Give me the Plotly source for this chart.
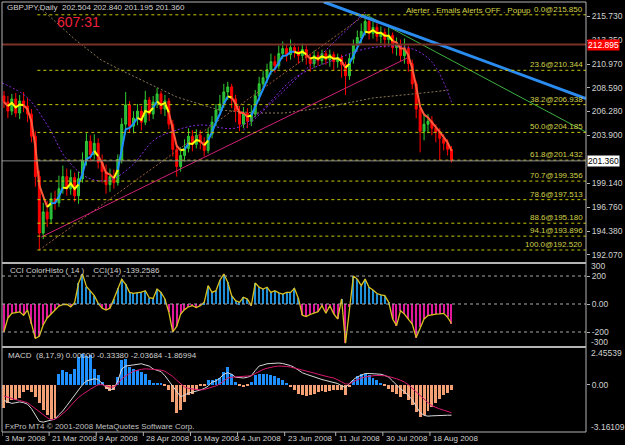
import plotly.graph_objects as go

# ---------------- data ----------------
O = [207.8, 207.2, 206.3, 207.5, 206.1, 207.3, 206.8, 206.0, 203.8, 199.8,
     194.2, 196.3, 195.6, 197.6, 197.2, 198.6, 199.8, 198.6, 199.7, 197.9,
     199.6, 201.4, 203.3, 202.0, 203.1, 201.2, 200.3, 199.0, 199.8, 199.2,
     201.5, 205.0, 206.9, 204.8, 205.6, 206.3, 205.2, 207.4, 206.0, 207.2,
     208.0, 206.5, 207.3, 205.0, 202.5, 200.8, 201.9, 202.6, 203.8, 203.0,
     203.9, 203.2, 202.4, 204.0, 205.2, 206.4, 207.0, 208.2, 208.7, 207.5,
     206.3, 205.0, 206.1, 205.3, 206.0, 207.8, 209.0, 209.6, 210.4, 211.2,
     210.8, 212.0, 212.5, 211.9, 212.6, 212.2, 211.8, 212.4, 211.6, 211.0,
     211.8, 211.3, 212.0, 211.4, 211.9, 211.2, 211.6, 210.9, 209.8, 211.5,
     212.8, 213.6, 214.2, 215.2, 214.0, 214.6, 213.7, 214.1, 213.4, 213.8,
     212.6, 212.9, 211.8, 212.5, 211.0, 209.0, 206.5, 204.3, 205.0, 205.3,
     204.6, 204.2, 203.6, 203.1, 202.504]
H = [208.3, 207.8, 208.0, 208.1, 207.9, 208.2, 207.6, 206.5, 204.3, 200.4,
     197.2, 197.4, 198.2, 198.4, 199.9, 200.9, 200.6, 200.5, 200.2, 200.3,
     202.2, 204.1, 203.9, 204.0, 203.6, 202.0, 201.0, 200.6, 200.5, 202.0,
     205.6, 208.2, 207.3, 206.3, 207.0, 206.8, 208.3, 207.7, 207.8, 208.6,
     208.3, 207.9, 207.6, 205.4, 203.0, 202.7, 203.5, 204.6, 204.4, 204.5,
     204.4, 203.7, 204.6, 205.8, 207.0, 207.9, 209.0, 209.2, 209.0, 207.9,
     206.8, 206.7, 206.6, 206.9, 208.4, 209.7, 210.3, 211.0, 212.0, 211.8,
     212.8, 213.2, 212.9, 213.4, 213.0, 212.7, 213.0, 212.8, 212.0, 212.3,
     212.2, 212.4, 212.3, 212.4, 212.2, 212.0, 211.9, 211.2, 212.0, 213.4,
     214.3, 215.0, 215.85, 215.5, 215.2, 215.0, 214.7, 214.5, 214.6, 214.1,
     213.6, 213.4, 213.5, 212.8, 211.4, 209.3, 206.9, 205.9, 206.0, 205.8,
     205.0, 204.6, 204.0, 203.5, 202.840]
L = [206.6, 205.6, 205.9, 205.7, 205.5, 206.2, 205.2, 203.2, 198.8, 192.52,
     193.6, 194.8, 195.1, 196.5, 196.8, 198.1, 197.9, 198.0, 197.3, 197.1,
     199.2, 200.9, 201.3, 201.5, 200.6, 199.2, 198.1, 198.3, 198.6, 198.9,
     201.1, 204.4, 204.2, 204.1, 204.9, 204.4, 204.9, 205.3, 205.5, 206.6,
     206.0, 205.8, 204.5, 201.8, 199.8, 200.3, 201.3, 202.2, 202.3, 202.6,
     202.5, 201.8, 202.1, 203.6, 204.8, 205.9, 206.6, 207.4, 206.6, 205.2,
     204.3, 204.6, 204.6, 204.8, 205.7, 207.3, 208.4, 209.1, 209.9, 210.1,
     210.5, 211.5, 211.2, 211.4, 211.6, 211.0, 211.2, 210.9, 210.2, 210.6,
     210.8, 210.9, 210.9, 210.7, 210.3, 210.6, 209.6, 207.9, 209.4, 211.0,
     212.4, 213.0, 213.8, 213.4, 213.5, 213.2, 213.0, 212.6, 212.8, 212.0,
     211.8, 211.2, 211.0, 210.2, 208.5, 205.6, 202.2, 203.4, 204.1, 203.9,
     203.2, 201.4, 202.4, 201.9, 201.195]
C = [207.2, 206.3, 207.5, 206.1, 207.3, 206.8, 206.0, 203.8, 199.8, 194.2,
     196.3, 195.6, 197.6, 197.2, 198.6, 199.8, 198.6, 199.7, 197.9, 199.6,
     201.4, 203.3, 202.0, 203.1, 201.2, 200.3, 199.0, 199.8, 199.2, 201.5,
     205.0, 206.9, 204.8, 205.6, 206.3, 205.2, 207.4, 206.0, 207.2, 208.0,
     206.5, 207.3, 205.0, 202.5, 200.8, 201.9, 202.6, 203.8, 203.0, 203.9,
     203.2, 202.4, 204.0, 205.2, 206.4, 207.0, 208.2, 208.7, 207.5, 206.3,
     205.0, 206.1, 205.3, 206.0, 207.8, 209.0, 209.6, 210.4, 211.2, 210.8,
     212.0, 212.5, 211.9, 212.6, 212.2, 211.8, 212.4, 211.6, 211.0, 211.8,
     211.3, 212.0, 211.4, 211.9, 211.2, 211.6, 210.9, 209.8, 211.5, 212.8,
     213.6, 214.2, 215.2, 214.0, 214.6, 213.7, 214.1, 213.4, 213.8, 212.6,
     212.9, 211.8, 212.5, 211.0, 209.0, 206.5, 204.3, 205.0, 205.3, 204.6,
     204.2, 203.6, 203.1, 202.504, 201.360]

CCI = [-198, -100, -66, -60, -56, -80, -43, -140, -245, -230,
       -150, -100, -70, -43, -15, -5, -2, -20, 10, 150,
       215, 125, 95, 60, 5, -30, -43, -30, 38, 114,
       176, 140, 83, 76, 80, 85, 95, 45, 40, 107,
       83, 36, -60, -200, -160, -72, -40, -20, -12, -25,
       -12, 12, 131, 83, 95, 170, 214, 155, 60, 24,
       12, 48, 36, -12, 150, 120, 107, 120, 83, 95,
       80, 71, 83, 83, 112, 40, -80, -90, -75, -65,
       -55, -12, -66, -12, -70, -107, 36, -280, -24, 200,
       178, 131, 178, 119, 100, 75, 65, 60, 12, -107,
       -155, -48, -72, -107, -143, -240, -167, -107, -83, -75,
       -72, -70, -67, -95, -139.2586]

MACD_HIST = [-1.58, -1.25, -1.03, -0.99, -0.92, -0.48, -0.37, -0.48, -0.82, -1.25,
             -1.7, -2.05, -2.27, -2.2, 0.75, 0.97, 0.86, 0.75, 1.08, 1.87,
             2.05, 1.92, 1.98, 1.08, 0.64, 0.2, -0.26, -0.42, -0.37, 0.53,
             1.64, 1.75, 1.2, 1.08, 0.97, 0.86, 0.75, 0.31, 0.13, 0.09,
             0.13, -0.1, -0.37, -1.14, -1.92, -1.7, -1.14, -0.7, -0.59, -0.37,
             -0.1, -0.02, 0.33, 0.33, 0.4, 0.46, 0.86, 1.2, 0.75, 0.2,
             -0.1, -0.15, -0.06, 0.2, 0.64, 0.75, 0.75, 0.75, 0.64, 0.57,
             0.46, 0.29, 0.07, -0.15, -0.37, -0.59, -0.7, -0.77, -0.7, -0.59,
             -0.48, -0.42, -0.48, -0.42, -0.37, -0.37, -0.37, -0.7, -0.15, 0.29,
             0.57, 0.7, 0.75, 0.64, 0.42, 0.29, 0.13, -0.02, -0.26, -0.48,
             -0.59, -0.81, -0.59, -1.03, -1.36, -1.8, -2.18, -2.03, -1.74, -1.47,
             -1.2, -0.98, -0.7, -0.55, -0.3338]
MACD_MAIN = [-1.05, -1.15, -1.25, -1.2, -1.15, -1.2, -1.3, -1.6, -2.0, -2.45,
             -2.5, -2.45, -2.4, -2.3, -2.0, -1.75, -1.4, -1.05, -0.7, -0.35,
             0.0, 0.25, 0.35, 0.4, 0.35, 0.1, -0.18, -0.35, -0.25, 0.25,
             1.05, 1.25, 1.3, 1.32, 1.4, 1.4, 1.32, 1.25, 1.05, 0.95,
             0.88, 0.6, 0.25, -0.1, -0.5, -0.8, -0.7, -0.55, -0.5, -0.45,
             -0.35, -0.25, -0.1, 0.18, 0.25, 0.45, 0.7, 0.8, 0.7, 0.5,
             0.45, 0.45, 0.5, 0.6, 0.95, 1.25, 1.32, 1.4, 1.42, 1.45,
             1.45, 1.42, 1.36, 1.28, 1.15, 0.95, 0.8, 0.7, 0.6, 0.5,
             0.4, 0.35, 0.28, 0.22, 0.18, 0.08, -0.08, -0.18, 0.08, 0.35,
             0.52, 0.65, 0.75, 0.75, 0.75, 0.72, 0.7, 0.62, 0.5, 0.25,
             0.0, -0.28, -0.45, -0.7, -1.0, -1.45, -1.85, -2.05, -2.1, -2.08,
             -2.06, -2.05, -2.05, -2.04, -2.03684]
MACD_SIGNAL = [-0.75, -0.85, -0.95, -1.0, -1.05, -1.12, -1.2, -1.4, -1.6, -1.85,
               -2.05, -2.2, -2.35, -2.3, -2.15, -1.95, -1.7, -1.4, -1.1, -0.85,
               -0.65, -0.45, -0.3, -0.15, 0.0, 0.0, -0.08, -0.15, -0.15, 0.05,
               0.4, 0.6, 0.75, 0.9, 0.98, 1.03, 1.06, 1.06, 1.03, 1.0,
               0.98, 0.9, 0.75, 0.55, 0.3, 0.05, -0.15, -0.25, -0.3, -0.35,
               -0.35, -0.32, -0.25, -0.15, -0.08, 0.05, 0.25, 0.45, 0.5, 0.52,
               0.53, 0.53, 0.55, 0.6, 0.75, 0.9, 1.02, 1.1, 1.17, 1.22,
               1.25, 1.25, 1.22, 1.18, 1.12, 1.05, 0.98, 0.9, 0.85, 0.78,
               0.7, 0.62, 0.55, 0.5, 0.45, 0.35, 0.2, 0.05, 0.05, 0.2,
               0.35, 0.45, 0.52, 0.58, 0.6, 0.62, 0.62, 0.6, 0.55, 0.5,
               0.4, 0.3, 0.18, 0.0, -0.25, -0.5, -0.75, -1.0, -1.2, -1.4,
               -1.52, -1.62, -1.7, -1.8, -1.86994]

FIB_PCT = ["0.0", "23.6", "38.2", "50.0", "61.8", "70.7", "78.6", "88.6", "94.1", "100.0"]
FIB_PRICE = [215.850, 210.344, 206.938, 204.185, 201.432, 199.356, 197.513, 195.180, 193.896, 192.520]
PRICE_TICKS = [215.730, 213.350, 210.970, 208.590, 206.280, 203.900, 199.140, 196.760, 194.380, 192.070]
DATE_LABELS = ["3 Mar 2008", "21 Mar 2008", "9 Apr 2008", "28 Apr 2008", "16 May 2008",
               "4 Jun 2008", "23 Jun 2008", "11 Jul 2008", "30 Jul 2008", "18 Aug 2008"]
DATE_BARS = [0, 12, 24, 36, 48, 60, 72, 85, 97, 109]

RESIST_LEVEL = 212.895
BID = 201.360

# drawn objects (bar index, price)
BLUE_LINE_X, BLUE_LINE_Y = [81.5, 148.25], [217.12, 207.55]
GREEN_LINE_X, GREEN_LINE_Y = [92, 148.25], [215.90, 204.22]
PINK_LINE_X, PINK_LINE_Y = [9.5, 102.75], [193.81, 211.57]
FIB_DIAG_X, FIB_DIAG_Y = [9, 92], [192.52, 215.85]
PURPLE_DIAG_X, PURPLE_DIAG_Y = [61, 92], [204.42, 216.13]
TAN_MA_X = [9, 12, 18.25, 24.75, 30.75, 44, 54.75, 64, 71.5, 82.25, 94, 109, 113.25]
TAN_MA_Y = [216.62, 215.53, 213.35, 211.37, 210.18, 207.70, 206.41, 206.11, 206.11, 206.70, 207.60, 208.19, 208.39]
PURPLE_MA_X = [-0.5, 5.75, 11.5, 15.75, 21.5, 27, 32.75, 38.25, 44, 50, 59, 65.25, 74, 84, 93.25, 103.25, 109, 114]
PURPLE_MA_Y = [209.09, 207.70, 204.62, 201.64, 199.66, 199.46, 200.95, 203.43, 204.42, 204.92, 204.62, 206.21, 209.58, 211.37, 212.56, 212.56, 211.17, 207.20]

N = len(C)
assert len(O) == N and len(H) == N and len(L) == N
assert len(CCI) == N and len(MACD_HIST) == N and len(MACD_MAIN) == N and len(MACD_SIGNAL) == N
bars = list(range(N))

# ---------------- geometry helpers (pixels -> paper) ----------------
PL, PR, PT, PB = 2, 597, 2, 432
def px(x):
    return (x - PL) / (PR - PL)
def py(y):
    return (PB - y) / (PB - PT)

FONT = "Liberation Sans, Arial, sans-serif"
TXT = "#d0d0d0"
FIBC = "#d2d24a"
XR = [-0.5, 148.25]
FS = 8

fig = go.Figure()

# long dotted MAs / diagonals (behind candles)
fig.add_trace(go.Scatter(x=TAN_MA_X, y=TAN_MA_Y, mode="lines", line=dict(color="#8c7a55", width=1, dash="2px,2px"), xaxis="x", yaxis="y"))
fig.add_trace(go.Scatter(x=PURPLE_MA_X, y=PURPLE_MA_Y, mode="lines", line=dict(color="#8a2be2", width=1, dash="2px,2px", shape="spline"), xaxis="x", yaxis="y"))
fig.add_trace(go.Scatter(x=FIB_DIAG_X, y=FIB_DIAG_Y, mode="lines", line=dict(color="#a0603a", width=1, dash="2px,2px"), xaxis="x", yaxis="y"))
fig.add_trace(go.Scatter(x=PURPLE_DIAG_X, y=PURPLE_DIAG_Y, mode="lines", line=dict(color="#8a2be2", width=1, dash="2px,2px"), xaxis="x", yaxis="y"))

# candles
fig.add_trace(go.Candlestick(x=bars, open=O, high=H, low=L, close=C,
                             increasing=dict(line=dict(color="#32cd32", width=1), fillcolor="#22b14c"),
                             decreasing=dict(line=dict(color="#ff0000", width=1), fillcolor="#ff0000"),
                             whiskerwidth=0, xaxis="x", yaxis="y"))

# colored moving average computed from closes
alpha = 0.45
ma = [C[0]]
for v in C[1:]:
    ma.append(ma[-1] + alpha * (v - ma[-1]))
cols = []
prev = None
for i in range(1, N):
    d = 1 if ma[i] >= ma[i - 1] else -1
    c = "#1e90ff" if d > 0 else "#ff5a3c"
    if prev is not None and d != prev:
        c = "#ffff00"
    cols.append(c)
    prev = d
i = 1
while i < N:
    j = i
    while j + 1 < N and cols[j] == cols[i - 1]:
        j += 1
    xs = list(range(i - 1, j + 1))
    fig.add_trace(go.Scatter(x=xs, y=[ma[k] for k in xs], mode="lines",
                             line=dict(color=cols[i - 1], width=2), xaxis="x", yaxis="y"))
    i = j + 1

# trend lines
fig.add_trace(go.Scatter(x=PINK_LINE_X, y=PINK_LINE_Y, mode="lines", line=dict(color="#d0207a", width=1), xaxis="x", yaxis="y"))
fig.add_trace(go.Scatter(x=GREEN_LINE_X, y=GREEN_LINE_Y, mode="lines", line=dict(color="#3cb043", width=1), xaxis="x", yaxis="y"))
fig.add_trace(go.Scatter(x=BLUE_LINE_X, y=BLUE_LINE_Y, mode="lines", line=dict(color="#2b8cf0", width=3), xaxis="x", yaxis="y"))

# CCI
fig.add_trace(go.Bar(x=bars, y=CCI, width=0.3,
                     marker=dict(color=["#1f8fd8" if v > 0 else "#e0189a" for v in CCI], line=dict(width=0)),
                     xaxis="x2", yaxis="y2"))
fig.add_trace(go.Scatter(x=bars, y=CCI, mode="lines", line=dict(color="#d8c020", width=1.3), xaxis="x2", yaxis="y2"))

# MACD
fig.add_trace(go.Bar(x=bars, y=MACD_HIST, width=0.75,
                     marker=dict(color=["#1e90ff" if v > 0 else "#f2a074" for v in MACD_HIST], line=dict(width=0)),
                     xaxis="x3", yaxis="y3"))
fig.add_trace(go.Scatter(x=bars, y=MACD_MAIN, mode="lines", line=dict(color="#d8d8d8", width=1), xaxis="x3", yaxis="y3"))
fig.add_trace(go.Scatter(x=bars, y=MACD_SIGNAL, mode="lines", line=dict(color="#d8186e", width=1), xaxis="x3", yaxis="y3"))

shapes = []
for p in FIB_PRICE:
    shapes.append(dict(type="line", xref="x", yref="y", x0=8.5, x1=XR[1], y0=p, y1=p,
                       line=dict(color="#c8c800", width=1, dash="3px,3px")))
shapes.append(dict(type="line", xref="paper", yref="y", x0=0, x1=1, y0=RESIST_LEVEL, y1=RESIST_LEVEL,
                   line=dict(color="#7a3326", width=2)))
shapes.append(dict(type="line", xref="paper", yref="y", x0=0, x1=1, y0=BID, y1=BID,
                   line=dict(color="#8a8a8a", width=1)))
for lv in (200, 0, -200):
    shapes.append(dict(type="line", xref="paper", yref="y2", x0=0, x1=1, y0=lv, y1=lv,
                       line=dict(color="#a8a8a8", width=1, dash="3px,3px")))
GRAY = "#b4b4b4"
shapes.append(dict(type="line", xref="paper", yref="paper", x0=0, x1=0, y0=0, y1=1, line=dict(color=GRAY, width=1)))
shapes.append(dict(type="line", xref="paper", yref="paper", x0=1, x1=1, y0=0, y1=1, line=dict(color=GRAY, width=1)))
shapes.append(dict(type="line", xref="paper", yref="paper", x0=0, x1=1, y0=1, y1=1, line=dict(color=GRAY, width=1)))
shapes.append(dict(type="line", xref="paper", yref="paper", x0=0, x1=1, y0=0, y1=0, line=dict(color=GRAY, width=1)))
for sy in (263, 347):
    shapes.append(dict(type="line", xref="paper", yref="paper", x0=0, x1=1.0, y0=py(sy), y1=py(sy), line=dict(color=GRAY, width=2)))
for b in DATE_BARS:
    shapes.append(dict(type="line", xref="x3", yref="paper", x0=b - 0.5, x1=b - 0.5, y0=0, y1=py(436),
                       line=dict(color=GRAY, width=1)))

ann = []
def text(x, y, s, size=FS, color=TXT, xanchor="left", **kw):
    ann.append(dict(x=px(x), y=py(y), xref="paper", yref="paper", text=s, showarrow=False,
                    xanchor=xanchor, yanchor="middle", font=dict(family=FONT, size=size, color=color), **kw))

text(5, 8, "GBPJPY,Daily  202.504 202.840 201.195 201.360")
text(56, 22, "607:31", size=14, color="#f0203c")
text(543, 11, "Alerter . Emails Alerts OFF . Popup", color=FIBC, xanchor="right")
for lab, p in zip(FIB_PCT, FIB_PRICE):
    ann.append(dict(x=px(596), y=p, xref="paper", yref="y", text=f"{lab}@{p:.3f}", showarrow=False,
                    xanchor="right", yanchor="bottom", yshift=-1,
                    font=dict(family=FONT, size=FS, color=FIBC)))
text(8, 270, "CCI ColorHisto ( 14 )    CCI(14) -139.2586")
text(6, 355, "MACD  (8,17,9) 0.00000 -0.33380 -2.03684 -1.86994")
text(3, 426, "FxPro MT4 © 2001-2008 MetaQuotes Software Corp.", color="#c0c0c0")
text(600, 266, "300", size=8.5)
text(600, 342, "-300", size=8.5)
text(600, 353, "2.45539", size=8.5)
text(600, 427, "-3.16109", size=8.5)
ann.append(dict(x=1, y=RESIST_LEVEL, xref="paper", yref="y", text="212.895", showarrow=False,
                xanchor="left", yanchor="middle", bgcolor="#ff0000", borderpad=0, xshift=1,
                font=dict(family=FONT, size=8.5, color="#ffffff")))
ann.append(dict(x=1, y=BID, xref="paper", yref="y", text="201.360", showarrow=False,
                xanchor="left", yanchor="middle", bgcolor="#ffffff", borderpad=0, xshift=1,
                font=dict(family=FONT, size=8.5, color="#000000")))
for lab, b in zip(DATE_LABELS, DATE_BARS):
    ann.append(dict(x=b - 0.5, y=py(439), xref="x3", yref="paper", text=lab, showarrow=False,
                    xanchor="left", yanchor="middle", xshift=1,
                    font=dict(family=FONT, size=FS, color=TXT)))

ax_common = dict(range=XR, showgrid=False, zeroline=False, showticklabels=False, ticks="", showline=False, fixedrange=True)
yfont = dict(family=FONT, size=8.5, color=TXT)
fig.update_layout(
    width=625, height=445,
    margin=dict(l=PL, r=625 - PR, t=PT, b=445 - PB),
    paper_bgcolor="#000000", plot_bgcolor="#000000",
    showlegend=False, bargap=0,
    xaxis=dict(**ax_common, anchor="y", rangeslider=dict(visible=False)),
    xaxis2=dict(**ax_common, anchor="y2", matches="x"),
    xaxis3=dict(**ax_common, anchor="y3", matches="x"),
    yaxis=dict(domain=[py(262), 1], range=[191.33, 217.12], side="right", anchor="x",
               tickvals=PRICE_TICKS, ticktext=[f"{v:.3f}" for v in PRICE_TICKS],
               ticks="outside", ticklen=3, tickcolor=GRAY, tickfont=yfont,
               showgrid=False, zeroline=False, showline=False),
    yaxis2=dict(domain=[py(346), py(263)], range=[-300, 293], side="right", anchor="x2",
                tickvals=[200, 0, -200], ticktext=["200", "0.00", "-200"],
                ticks="outside", ticklen=3, tickcolor=GRAY, tickfont=yfont,
                showgrid=False, zeroline=False, showline=False),
    yaxis3=dict(domain=[0, py(348)], range=[-3.16109, 2.45539], side="right", anchor="x3",
                tickvals=[0], ticktext=["0.00"],
                ticks="outside", ticklen=3, tickcolor=GRAY, tickfont=yfont,
                showgrid=False, zeroline=False, showline=False),
    shapes=shapes, annotations=ann,
)

fig.write_html("out.html")
